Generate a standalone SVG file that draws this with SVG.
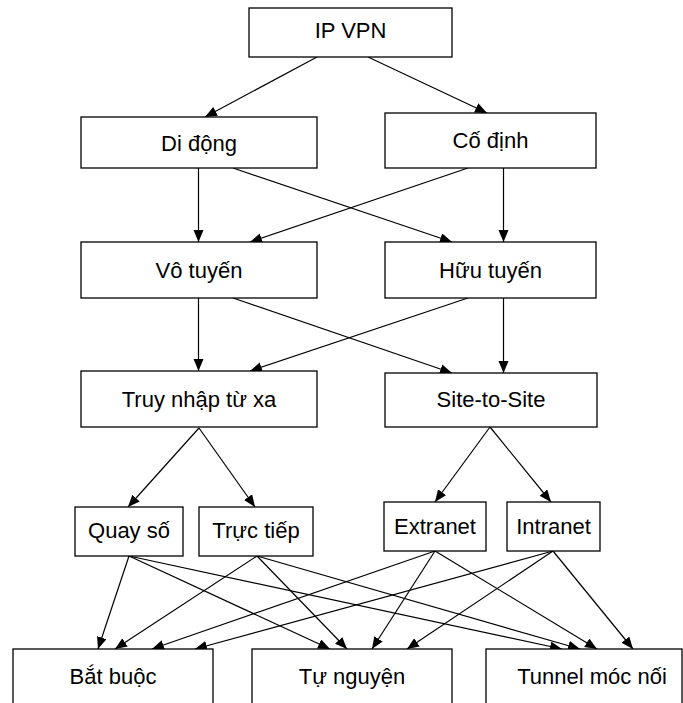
<svg xmlns="http://www.w3.org/2000/svg" width="683" height="703" viewBox="0 0 683 703">
<style>
.box{fill:#fff;stroke:#000;stroke-width:1.3}
.lbl{font-family:"Liberation Sans",Arial,sans-serif;font-size:22px;fill:#000;text-anchor:middle}
.edge{stroke:#000;stroke-width:1.2;fill:none;marker-end:url(#arr)}
</style>
<defs>
<marker id="arr" markerUnits="userSpaceOnUse" markerWidth="13" markerHeight="11" refX="12" refY="5" orient="auto">
<path d="M0,0 L12,5 L0,10 z" fill="#000"/>
</marker>
</defs>
<rect width="683" height="703" fill="#fff"/>
<g id="connectors">
<line class="edge" x1="317" y1="57" x2="205" y2="117"/>
<line class="edge" x1="368" y1="57" x2="487" y2="113"/>
<line class="edge" x1="198.5" y1="168" x2="198.5" y2="242"/>
<line class="edge" x1="503.5" y1="168" x2="503.5" y2="242"/>
<line class="edge" x1="233" y1="168" x2="452" y2="242"/>
<line class="edge" x1="468" y1="168" x2="250" y2="242"/>
<line class="edge" x1="198.5" y1="298" x2="198.5" y2="371"/>
<line class="edge" x1="503.5" y1="298" x2="503.5" y2="373"/>
<line class="edge" x1="233" y1="298" x2="452" y2="373"/>
<line class="edge" x1="468" y1="298" x2="250" y2="371"/>
<line class="edge" x1="199" y1="428" x2="128" y2="507"/>
<line class="edge" x1="199" y1="428" x2="255" y2="507"/>
<line class="edge" x1="490" y1="427" x2="435" y2="502"/>
<line class="edge" x1="490" y1="427" x2="551" y2="502"/>
<line class="edge" x1="129" y1="556" x2="98" y2="649"/>
<line class="edge" x1="129" y1="556" x2="330" y2="649"/>
<line class="edge" x1="129" y1="556" x2="562" y2="649"/>
<line class="edge" x1="257" y1="556" x2="115" y2="649"/>
<line class="edge" x1="257" y1="556" x2="347" y2="649"/>
<line class="edge" x1="257" y1="556" x2="580" y2="649"/>
<line class="edge" x1="435" y1="551" x2="152" y2="649"/>
<line class="edge" x1="435" y1="551" x2="372" y2="649"/>
<line class="edge" x1="435" y1="551" x2="597" y2="649"/>
<line class="edge" x1="553" y1="551" x2="195" y2="649"/>
<line class="edge" x1="553" y1="551" x2="407" y2="649"/>
<line class="edge" x1="553" y1="551" x2="633" y2="649"/>
</g>
<g id="ipvpn"><rect class="box" x="249" y="8" width="203" height="49"/><text class="lbl" x="350.5" y="38">IP VPN</text></g>
<g id="didong"><rect class="box" x="81" y="117" width="236" height="51"/><text class="lbl" x="199" y="150.5">Di động</text></g>
<g id="codinh"><rect class="box" x="385" y="113" width="211" height="55"/><text class="lbl" x="490.5" y="147.5">Cố định</text></g>
<g id="votuyen"><rect class="box" x="81" y="242" width="236" height="56"/><text class="lbl" x="199" y="277.5">Vô tuyến</text></g>
<g id="huutuyen"><rect class="box" x="385" y="242" width="211" height="56"/><text class="lbl" x="490.5" y="277.5">Hữu tuyến</text></g>
<g id="truynhap"><rect class="box" x="81" y="371" width="236" height="56"/><text class="lbl" x="199" y="406.5">Truy nhập từ xa</text></g>
<g id="sitetosite"><rect class="box" x="385" y="373" width="212" height="54"/><text class="lbl" x="491" y="406.5">Site-to-Site</text></g>
<g id="quayso"><rect class="box" x="75" y="507" width="108" height="49"/><text class="lbl" x="129" y="538">Quay số</text></g>
<g id="tructiep"><rect class="box" x="199" y="507" width="114" height="49"/><text class="lbl" x="256" y="538">Trực tiếp</text></g>
<g id="extranet"><rect class="box" x="384" y="502" width="102" height="49"/><text class="lbl" x="435" y="534">Extranet</text></g>
<g id="intranet"><rect class="box" x="507" y="502" width="93" height="49"/><text class="lbl" x="553.5" y="534">Intranet</text></g>
<g id="batbuoc"><rect class="box" x="13" y="649" width="200" height="80"/><text class="lbl" x="113" y="684">Bắt buộc</text></g>
<g id="tunguyen"><rect class="box" x="252" y="649" width="200" height="80"/><text class="lbl" x="352" y="684">Tự nguyện</text></g>
<g id="tunnel"><rect class="box" x="486" y="649" width="196" height="80"/><text class="lbl" x="592" y="684">Tunnel móc nối</text></g>
</svg>
